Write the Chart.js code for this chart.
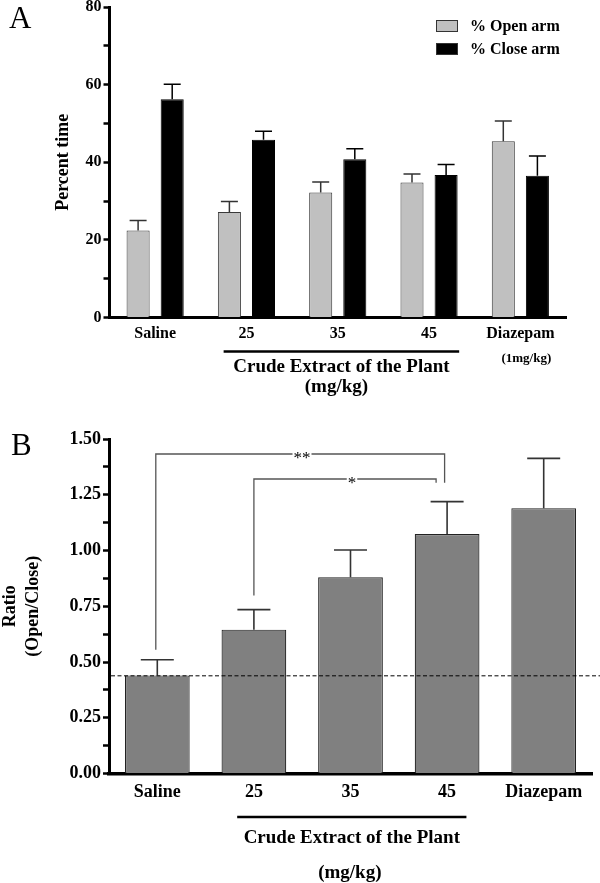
<!DOCTYPE html>
<html><head><meta charset="utf-8">
<script src="https://cdn.jsdelivr.net/npm/chart.js@4.4.1/dist/chart.umd.min.js"></script>
<style>
html,body{margin:0;padding:0;background:#fff;width:600px;height:883px;overflow:hidden}
#wa{position:absolute;left:0;top:0;width:600px;height:400px}
#wb{position:absolute;left:0;top:400px;width:600px;height:483px}
</style></head><body>
<div id="wa"><canvas id="ca" width="600" height="400"></canvas></div>
<div id="wb"><canvas id="cb" width="600" height="483"></canvas></div>
<script>
// ---------- data ----------
const groupsA = ['Saline', '25', '35', '45', 'Diazepam'];
const openArm = [22.4, 27.2, 32.2, 34.8, 45.4];
const openArmErrTop = [25.0, 29.9, 34.9, 37.0, 50.6];
const closeArm = [56.2, 45.8, 40.8, 36.7, 36.5];
const closeArmErrTop = [60.1, 48.0, 43.5, 39.4, 41.6];
const ticksA = [0, 20, 40, 60, 80];
const seriesNamesA = ['% Open arm', '% Close arm'];

const groupsB = ['Saline', '25', '35', '45', 'Diazepam'];
const ratio = [0.44, 0.645, 0.88, 1.074, 1.19];
const ratioErrTop = [0.51, 0.735, 1.002, 1.219, 1.413];
const ticksB = [0, 0.25, 0.5, 0.75, 1.0, 1.25, 1.5];
const baselineRatio = 0.438;
const brackets = [{from: 0, to: 3, label: '**'}, {from: 1, to: 3, label: '*'}];

const yTitleA = 'Percent time';
const yTitleB = ['Ratio', '(Open/Close)'];
const groupTitle = 'Crude Extract of the Plant';
const groupUnit = '(mg/kg)';
const diazepamDose = '(1mg/kg)';
const panelLabels = ['A', 'B'];

// ---------- helpers ----------
const FONT = "'Liberation Serif','Times New Roman',serif";

const errorBars = {
  id: 'errorBars',
  afterDatasetsDraw(chart, args, opts) {
    const ctx = chart.ctx, y = chart.scales.y;
    chart.data.datasets.forEach((ds, di) => {
      if (!ds.errTop) return;
      const meta = chart.getDatasetMeta(di);
      ctx.save();
      ctx.strokeStyle = ds.errColor || '#000';
      ctx.lineWidth = opts.lineWidth || 1.5;
      meta.data.forEach((el, i) => {
        const yt = y.getPixelForValue(ds.errTop[i]);
        ctx.beginPath();
        ctx.moveTo(el.x, el.y); ctx.lineTo(el.x, yt);
        ctx.moveTo(el.x - opts.cap / 2, yt); ctx.lineTo(el.x + opts.cap / 2, yt);
        ctx.stroke();
      });
      ctx.restore();
    });
  }
};

function yScaleCommon(extra) {
  return Object.assign({
    grid: {display: true, drawOnChartArea: false, drawTicks: true, tickLength: 6, tickWidth: 2.5, tickColor: '#000'},
    border: {display: true, color: '#000', width: 3},
  }, extra);
}

// ---------- chart A ----------
const annoA = {
  id: 'annoA',
  afterDraw(chart) {
    const {ctx, chartArea: ca, scales: {x}} = chart;
    const cw = x.getPixelForValue(1) - x.getPixelForValue(0);
    ctx.save();
    ctx.fillStyle = '#000';
    ctx.font = `31px ${FONT}`;
    ctx.textAlign = 'left'; ctx.textBaseline = 'alphabetic';
    ctx.fillText(panelLabels[0], 9, 28);
    // y title
    ctx.save();
    ctx.translate(63, (ca.top + ca.bottom) / 2);
    ctx.rotate(-Math.PI / 2);
    ctx.font = `bold 18px ${FONT}`;
    ctx.textAlign = 'center'; ctx.textBaseline = 'middle';
    ctx.fillText(yTitleA, 0, 0);
    ctx.restore();
    // legend
    chart.data.datasets.forEach((ds, i) => {
      const yy = 20 + i * 23;
      ctx.fillStyle = ds.backgroundColor;
      ctx.fillRect(436, yy, 22, 12);
      ctx.strokeStyle = '#333'; ctx.lineWidth = 1;
      ctx.strokeRect(436.5, yy + 0.5, 21, 11);
      ctx.fillStyle = '#000';
      ctx.font = `bold 16px ${FONT}`;
      ctx.textAlign = 'left'; ctx.textBaseline = 'middle';
      ctx.fillText(ds.label, 470, yy + 7);
    });
    // crude extract bar
    const x0 = x.getPixelForValue(1) - 0.25 * cw;
    const x1 = x.getPixelForValue(3) + 0.33 * cw;
    ctx.strokeStyle = '#000'; ctx.lineWidth = 2.5;
    ctx.beginPath(); ctx.moveTo(x0, ca.bottom + 34); ctx.lineTo(x1, ca.bottom + 34); ctx.stroke();
    ctx.font = `bold 19px ${FONT}`;
    ctx.textAlign = 'center'; ctx.textBaseline = 'middle';
    ctx.fillText(groupTitle, (x0 + x1) / 2, ca.bottom + 50);
    ctx.fillText(groupUnit, (x0 + x1) / 2 - 5, ca.bottom + 70);
    ctx.font = `bold 13px ${FONT}`;
    ctx.fillText(diazepamDose, x.getPixelForValue(4) + 6, ca.bottom + 41);
    ctx.restore();
  }
};

new Chart(document.getElementById('ca'), {
  type: 'bar',
  data: {
    labels: groupsA,
    datasets: [
      {label: seriesNamesA[0], data: openArm, errTop: openArmErrTop, errColor: '#333',
       backgroundColor: '#c0c0c0', borderColor: '#3a3a3a', borderWidth: 1,
       categoryPercentage: 0.747, barPercentage: 0.676},
      {label: seriesNamesA[1], data: closeArm, errTop: closeArmErrTop, errColor: '#000',
       backgroundColor: '#000000', borderColor: '#000', borderWidth: 1,
       categoryPercentage: 0.747, barPercentage: 0.676}
    ]
  },
  options: {
    responsive: false, animation: false,
    layout: {padding: {top: 7, right: 34, left: 0, bottom: 0}},
    plugins: {legend: {display: false}, tooltip: {enabled: false}, errorBars: {cap: 17, lineWidth: 1.5}},
    scales: {
      x: {
        grid: {display: false, drawTicks: false},
        border: {display: true, color: '#000', width: 3},
        ticks: {color: '#000', font: {family: FONT, size: 16, weight: 'bold'}, padding: 7, maxRotation: 0, autoSkip: false},
        afterFit(s) { s.height = 400 - 317.5; s.paddingLeft = 0; s.paddingRight = 0; }
      },
      y: yScaleCommon({
        min: 0, max: 80,
        ticks: {stepSize: 10, color: '#000', padding: 2, font: {family: FONT, size: 16, weight: 'bold'},
                callback: v => ticksA.includes(v) ? String(v) : ''},
        afterFit(s) { s.width = 109.5; s.paddingTop = 0; s.paddingBottom = 0; }
      })
    }
  },
  plugins: [errorBars, annoA]
});

// ---------- chart B ----------
const annoB = {
  id: 'annoB',
  afterDraw(chart) {
    const {ctx, chartArea: ca, scales: {x, y}} = chart;
    const cw = x.getPixelForValue(1) - x.getPixelForValue(0);
    ctx.save();
    ctx.fillStyle = '#000';
    ctx.font = `31px ${FONT}`;
    ctx.textAlign = 'left'; ctx.textBaseline = 'alphabetic';
    ctx.fillText(panelLabels[1], 11, 55);
    // y title (two lines)
    ctx.save();
    ctx.translate(0, (ca.top + ca.bottom) / 2);
    ctx.rotate(-Math.PI / 2);
    ctx.font = `bold 18px ${FONT}`;
    ctx.textAlign = 'center'; ctx.textBaseline = 'middle';
    ctx.fillText(yTitleB[0], 0, 10);
    ctx.fillText(yTitleB[1], 0, 33);
    ctx.restore();
    // dashed baseline
    const yb = y.getPixelForValue(baselineRatio);
    ctx.strokeStyle = '#000'; ctx.lineWidth = 1; ctx.setLineDash([4, 2.5]);
    ctx.beginPath(); ctx.moveTo(ca.left + 2, yb); ctx.lineTo(600, yb); ctx.stroke();
    ctx.setLineDash([]);
    // significance brackets
    const meta = chart.getDatasetMeta(0);
    ctx.strokeStyle = '#555'; ctx.lineWidth = 1.3;
    ctx.font = `17px ${FONT}`;
    brackets.forEach((b, k) => {
      const topY = ca.top + 15 + k * 25;
      const xl = meta.data[b.from].x - (k === 0 ? 1.5 : 0);
      const xr = meta.data[b.to].x - (k === 0 ? 2.5 : 11);
      const yl = y.getPixelForValue(ratioErrTop[b.from]) - (k === 0 ? 10 : 14);
      const yr = y.getPixelForValue(ratioErrTop[b.to]) - 19;
      const tw = ctx.measureText(b.label).width;
      const mx = k === 0 ? 302 : 352;
      ctx.beginPath();
      ctx.moveTo(xl, yl); ctx.lineTo(xl, topY); ctx.lineTo(mx - tw / 2 - 1, topY);
      ctx.moveTo(mx + tw / 2 + 1, topY); ctx.lineTo(xr, topY); ctx.lineTo(xr, yr);
      ctx.stroke();
      ctx.fillStyle = '#000';
      ctx.textAlign = 'center'; ctx.textBaseline = 'middle';
      ctx.fillText(b.label, mx, topY + 5);
    });
    // crude extract bar
    const x0 = x.getPixelForValue(1) - 0.173 * cw;
    const x1 = x.getPixelForValue(3) + 0.2 * cw;
    ctx.strokeStyle = '#000'; ctx.lineWidth = 2.5;
    ctx.beginPath(); ctx.moveTo(x0, ca.bottom + 43.5); ctx.lineTo(x1, ca.bottom + 43.5); ctx.stroke();
    ctx.fillStyle = '#000';
    ctx.font = `bold 19px ${FONT}`;
    ctx.textAlign = 'center'; ctx.textBaseline = 'middle';
    ctx.fillText(groupTitle, (x0 + x1) / 2, ca.bottom + 64.5);
    ctx.fillText(groupUnit, (x0 + x1) / 2 - 2, ca.bottom + 99.5);
    ctx.restore();
  }
};

new Chart(document.getElementById('cb'), {
  type: 'bar',
  data: {
    labels: groupsB,
    datasets: [
      {label: 'Ratio', data: ratio, errTop: ratioErrTop, errColor: '#333',
       backgroundColor: '#808080', borderColor: '#222', borderWidth: 1.2,
       categoryPercentage: 1.0, barPercentage: 0.67}
    ]
  },
  options: {
    responsive: false, animation: false,
    layout: {padding: {top: 39, right: 8, left: 0, bottom: 0}},
    plugins: {legend: {display: false}, tooltip: {enabled: false}, errorBars: {cap: 33, lineWidth: 1.6}},
    scales: {
      x: {
        grid: {display: false, drawTicks: false},
        border: {display: true, color: '#000', width: 3.5},
        ticks: {color: '#000', font: {family: FONT, size: 18, weight: 'bold'}, padding: 8, maxRotation: 0, autoSkip: false},
        afterFit(s) { s.height = 483 - 373.5; s.paddingLeft = 0; s.paddingRight = 0; }
      },
      y: yScaleCommon({
        min: 0, max: 1.5,
        ticks: {stepSize: 0.125, color: '#000', padding: 2, font: {family: FONT, size: 18, weight: 'bold'},
                callback: v => ticksB.some(t => Math.abs(t - v) < 1e-9) ? v.toFixed(2) : ''},
        afterFit(s) { s.width = 109; s.paddingTop = 0; s.paddingBottom = 0; }
      })
    }
  },
  plugins: [errorBars, annoB]
});
</script>
</body></html>
